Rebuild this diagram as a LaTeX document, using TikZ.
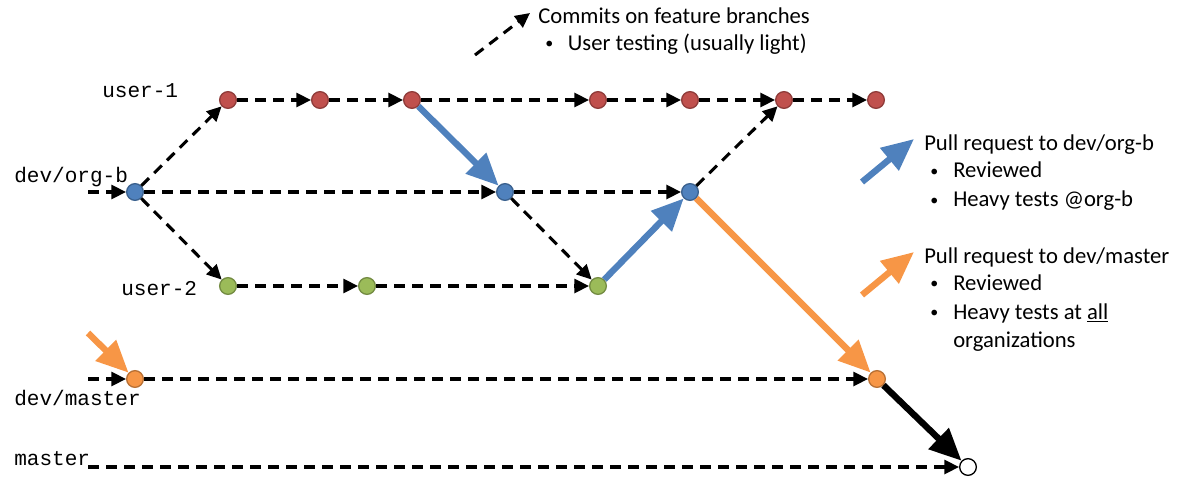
\documentclass[tikz,border=0pt]{standalone}
\usepackage{fontspec}
\setmainfont{Carlito}
\newfontfamily\monofam{Liberation Mono}
\usetikzlibrary{arrows.meta}
\definecolor{cred}{HTML}{C0504D}
\definecolor{cblue}{HTML}{4F81BD}
\definecolor{cgreen}{HTML}{9BBB59}
\definecolor{corange}{HTML}{F79646}
\newcommand{\bul}[1]{\makebox[#1][l]{\raisebox{1.5pt}{\fontsize{12}{12}\selectfont\textbullet}}}
\tikzset{
  commit/.style={circle,minimum size=12.5pt,inner sep=0pt,line width=1pt},
  redc/.style={commit,fill=cred,draw=cred!75!black},
  bluec/.style={commit,fill=cblue,draw=cblue!75!black},
  greenc/.style={commit,fill=cgreen,draw=cgreen!75!black},
  orangec/.style={commit,fill=corange,draw=corange!75!black},
  whitec/.style={commit,fill=white,draw=black},
  darr/.style={line width=2.3pt,dash pattern=on 8pt off 5.5pt,-{Triangle[length=11pt,width=10.5pt]}},
  parr/.style={line width=4.8pt,-{Triangle[length=24pt,width=21pt]}},
  branchlbl/.style={font=\monofam\fontsize{15.8}{18}\selectfont,anchor=base west,inner sep=0pt},
  legtxt/.style={font=\fontsize{17}{20}\selectfont,anchor=base west,inner sep=0pt},
}
\begin{document}
\begin{tikzpicture}[x=0.75pt,y=-0.75pt]
\useasboundingbox (0,0) rectangle (1178,481);
% commits
\node[redc] (r1) at (228,100) {};
\node[redc] (r2) at (320,100) {};
\node[redc] (r3) at (412,100) {};
\node[redc] (r4) at (598,100) {};
\node[redc] (r5) at (690,100) {};
\node[redc] (r6) at (784,100) {};
\node[redc] (r7) at (876,100) {};
\node[bluec] (b1) at (135,192) {};
\node[bluec] (b2) at (505,192) {};
\node[bluec] (b3) at (690,192) {};
\node[greenc] (g1) at (228,286) {};
\node[greenc] (g2) at (367,286) {};
\node[greenc] (g3) at (598,286) {};
\node[orangec] (o1) at (135,379) {};
\node[orangec] (o2) at (877,379) {};
\node[whitec] (m1) at (968,467) {};
% free ends
\coordinate (inb) at (88,192);
\coordinate (ino) at (88,379);
\coordinate (inm) at (88,467);
\coordinate (oin) at (88,333);
\coordinate (l1s) at (475,55);
\coordinate (l1e) at (530,13);
\coordinate (l2s) at (862,182);
\coordinate (l2e) at (914,139);
\coordinate (l3s) at (862,295);
\coordinate (l3e) at (914,252);
% labels
\node[branchlbl] (lu1) at (102,98) {user-1};
\node[branchlbl] (lob) at (14,183) {dev/org-b};
\node[branchlbl] (lu2) at (121,295) {user-2};
\node[branchlbl] (ldm) at (14,405) {dev/master};
\node[branchlbl] (lm) at (14,465) {master};
% dashed connectors
\draw[darr] (inb) -- (b1);
\draw[darr] (ino) -- (o1);
\draw[darr] (inm) -- (m1);
\draw[darr] (b1) -- (r1);
\draw[darr] (b1) -- (g1);
\draw[darr] (b1) -- (b2);
\draw[darr] (r1) -- (r2);
\draw[darr] (r2) -- (r3);
\draw[darr] (r3) -- (r4);
\draw[darr] (r4) -- (r5);
\draw[darr] (r5) -- (r6);
\draw[darr] (r6) -- (r7);
\draw[darr] (b2) -- (g3);
\draw[darr] (b2) -- (b3);
\draw[darr] (g1) -- (g2);
\draw[darr] (g2) -- (g3);
\draw[darr] (b3) -- (r6);
\draw[darr] (o1) -- (o2);
% pull requests
\draw[parr,cblue] (r3) -- (b2);
\draw[parr,cblue] (g3) -- (b3);
\draw[parr,corange] (b3) -- (o2);
\draw[parr,corange] (oin) -- (o1);
\draw[parr,black] (o2) -- (m1);
% legend
\draw[darr] (l1s) -- (l1e);
\draw[parr,cblue] (l2s) -- (l2e);
\draw[parr,corange] (l3s) -- (l3e);
\node[legtxt] (t1) at (538,24) {Commits on feature branches};
\node[legtxt] (t2) at (545,51) {\bul{17pt}User testing (usually light)};
\node[legtxt] (t3) at (924,151) {Pull request to dev/org-b};
\node[legtxt] (t4) at (930,178) {\bul{17.25pt}Reviewed};
\node[legtxt] (t5) at (930,207) {\bul{17.25pt}Heavy tests @org-b};
\node[legtxt] (t6) at (924,263) {Pull request to dev/master};
\node[legtxt] (t7) at (930,290) {\bul{17.25pt}Reviewed};
\node[legtxt] (t8) at (930,319) {\bul{17.25pt}Heavy tests at \underline{all}};
\node[legtxt] (t9) at (953,347) {organizations};
\end{tikzpicture}
\end{document}
